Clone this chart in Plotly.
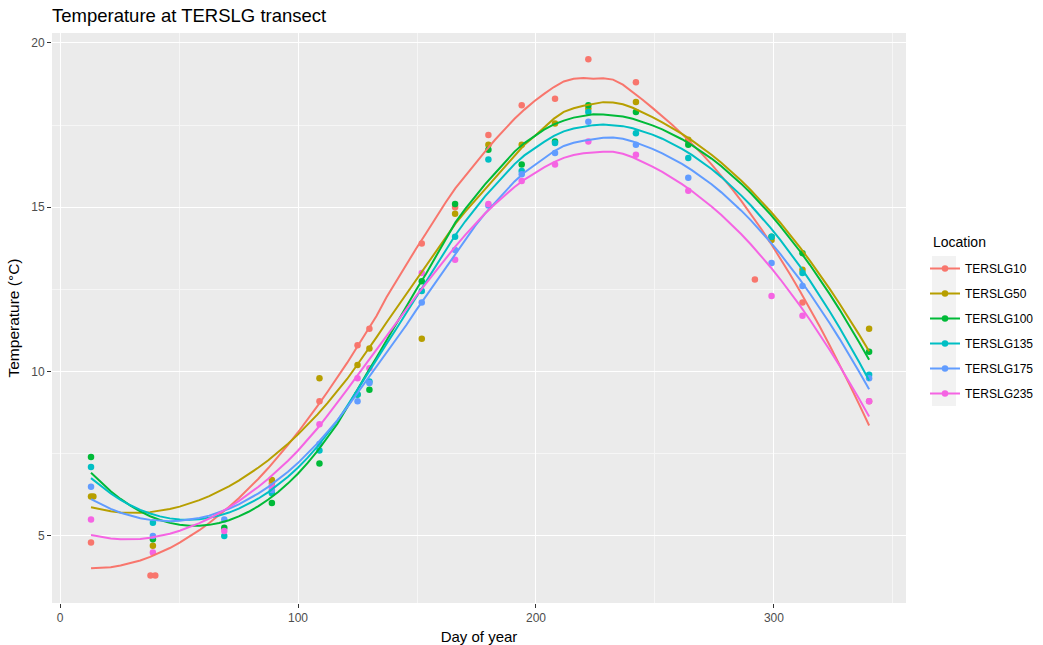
import numpy as np
import plotly.graph_objects as go

locations = ["TERSLG10", "TERSLG50", "TERSLG100", "TERSLG135", "TERSLG175", "TERSLG235"]
colors = ["#F8766D", "#B79F00", "#00BA38", "#00BFC4", "#619CFF", "#F564E3"]

days_10 = [13, 38, 40, 89, 109, 125, 130, 152, 166, 180, 194, 208, 222, 242, 264, 292, 312, 340]
temp_10 = [4.8, 3.8, 3.8, 6.6, 9.1, 10.8, 11.3, 13.9, 15.0, 17.2, 18.1, 18.3, 19.5, 18.8, 17.0, 12.8, 12.1, 9.1]

days_50 = [13, 14, 39, 89, 109, 125, 130, 152, 166, 180, 194, 208, 222, 242, 264, 299, 312, 340]
temp_50 = [6.2, 6.2, 4.7, 6.7, 9.8, 10.2, 10.7, 11.0, 14.8, 16.9, 16.9, 17.55, 18.0, 18.2, 17.05, 14.0, 13.1, 11.3]

days_100 = [13, 39, 69, 89, 109, 125, 130, 152, 166, 180, 194, 208, 222, 242, 264, 299, 312, 340]
temp_100 = [7.4, 4.9, 5.25, 6.0, 7.2, 9.3, 9.45, 12.75, 15.1, 16.75, 16.3, 17.0, 18.1, 17.9, 16.9, 14.1, 13.6, 10.6]

days_135 = [13, 39, 69, 89, 109, 125, 130, 152, 166, 180, 194, 208, 222, 242, 264, 299, 312, 340]
temp_135 = [7.1, 5.4, 5.0, 6.3, 7.6, 9.3, 9.7, 12.45, 14.1, 16.45, 16.1, 16.95, 17.9, 17.25, 16.5, 14.1, 13.0, 9.9]

days_175 = [13, 39, 69, 89, 109, 125, 130, 152, 166, 180, 194, 208, 222, 242, 264, 299, 312, 340]
temp_175 = [6.5, 5.0, 5.5, 6.4, 7.8, 9.1, 9.65, 12.1, 13.7, 15.05, 16.0, 16.65, 17.6, 16.9, 15.9, 13.3, 12.6, 9.8]

days_235 = [13, 39, 69, 89, 109, 125, 130, 152, 166, 180, 194, 208, 222, 242, 264, 299, 312, 340]
temp_235 = [5.5, 4.5, 5.15, 6.5, 8.4, 9.8, 10.1, 13.0, 13.4, 15.1, 15.8, 16.3, 17.0, 16.6, 15.5, 12.3, 11.7, 9.1]

series_days = [days_10, days_50, days_100, days_135, days_175, days_235]
series_temp = [temp_10, temp_50, temp_100, temp_135, temp_175, temp_235]


def loess(x, y, xnew, span=0.75):
    x = np.asarray(x, float)
    y = np.asarray(y, float)
    n = len(x)
    q = int(np.floor(n * span))
    out = []
    for x0 in xnew:
        d = np.abs(x - x0)
        h = np.sort(d)[q - 1]
        u = np.clip(d / h, 0, 1)
        w = (1 - u ** 3) ** 3
        X = np.vstack([np.ones(n), x - x0, (x - x0) ** 2]).T
        W = np.diag(w)
        beta = np.linalg.lstsq(X.T @ W @ X, X.T @ W @ y, rcond=None)[0]
        out.append(beta[0])
    return np.array(out)


fig = go.Figure()

for name, col, dx, ty in zip(locations, colors, series_days, series_temp):
    fig.add_trace(go.Scatter(
        x=dx, y=ty, mode="markers", name=name, legendgroup=name, showlegend=False,
        marker=dict(color=col, size=6.5), hoverinfo="x+y+name"))

for name, col, dx, ty in zip(locations, colors, series_days, series_temp):
    xs = np.linspace(min(dx), max(dx), 80)
    ys = loess(dx, ty, xs)
    fig.add_trace(go.Scatter(
        x=xs, y=ys, mode="lines", name=name, legendgroup=name, showlegend=False,
        line=dict(color=col, width=2)))

for name, col in zip(locations, colors):
    fig.add_trace(go.Scatter(
        x=[None], y=[None], mode="lines+markers", name=name, legendgroup=name,
        line=dict(color=col, width=2), marker=dict(color=col, size=6.5)))

font = "Liberation Sans, Arial, sans-serif"

# legend key background (ggplot grey95 keys)
fig.add_shape(type="rect", xref="paper", yref="paper",
              x0=(932 - 52) / 854, x1=(956 - 52) / 854,
              y0=(603 - 406) / 570, y1=(603 - 256) / 570,
              fillcolor="#F2F2F2", line=dict(width=0), layer="below")

fig.add_annotation(text="Location", xref="paper", yref="paper",
                   x=(931 - 52) / 854, xanchor="left", y=(603 - 242) / 570, yanchor="middle",
                   showarrow=False, font=dict(size=14, color="black"))

fig.update_layout(
    width=1043, height=645,
    margin=dict(l=52, r=137, t=33, b=42, autoexpand=False),
    paper_bgcolor="white", plot_bgcolor="#EBEBEB",
    font=dict(family=font, color="black"),
    title=dict(text="Temperature at TERSLG transect", x=52 / 1043, xanchor="left",
               y=1 - 16 / 645, yanchor="middle", font=dict(size=18.5, color="black")),
    legend=dict(x=(925 - 52) / 854, xanchor="left", y=(603 - 254) / 570, yanchor="top",
                font=dict(size=12, color="black"), bgcolor="rgba(0,0,0,0)",
                tracegroupgap=6, itemwidth=30),
    showlegend=True,
)

fig.update_xaxes(
    range=[-3.4, 355.5], tickvals=[0, 100, 200, 300], ticktext=["0", "100", "200", "300"],
    showgrid=True, gridcolor="white", gridwidth=1.2, zeroline=False,
    minor=dict(tickvals=[50, 150, 250, 350], showgrid=True, gridcolor="#F6F6F6", gridwidth=0.6, ticks=""),
    ticks="outside", ticklen=4, tickcolor="#333333", tickwidth=1,
    tickfont=dict(size=12, color="#4D4D4D"),
    title=dict(text="Day of year", font=dict(size=15, color="black"), standoff=7),
    showline=False,
)
fig.update_yaxes(
    range=[2.96, 20.3], tickvals=[5, 10, 15, 20], ticktext=["5", "10", "15", "20"],
    showgrid=True, gridcolor="white", gridwidth=1.2, zeroline=False,
    minor=dict(tickvals=[7.5, 12.5, 17.5], showgrid=True, gridcolor="#F6F6F6", gridwidth=0.6, ticks=""),
    ticks="outside", ticklen=4, tickcolor="#333333", tickwidth=1,
    tickfont=dict(size=12, color="#4D4D4D"),
    title=dict(text="Temperature (°C)", font=dict(size=15.5, color="black"), standoff=7),
    showline=False,
)

fig.write_html("out.html")
